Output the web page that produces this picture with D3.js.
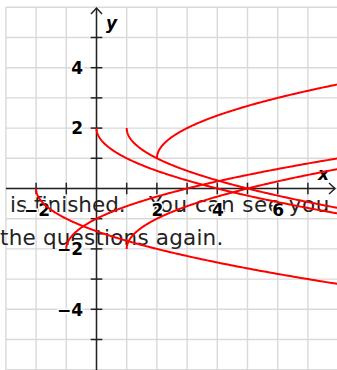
<!DOCTYPE html>
<html>
<head>
<meta charset="utf-8">
<script src="https://cdn.jsdelivr.net/npm/d3@7"></script>
<style>
  html, body { margin: 0; padding: 0; background: #fff; overflow: hidden; }
  svg { display: block; }
</style>
</head>
<body>
<div id="chart"></div>
<script>
const width = 337;
const height = 370;

// each curve: y = startY + dir * sqrt(x - startX)
const curveStartX = [0, 1, 2, -2, -1, 1];
const curveStartY = [2, 2, 1, 0, -2, -2];
const curveDir = [-1, -1, 1, -1, 1, 1];

const xTickLabels = [-2, 2, 4, 6];
const yTickLabels = [4, 2, -2, -4];
const xTicks = [-2, -1, 1, 2, 3, 4, 5, 6, 7];
const yTicks = [-5, -4, -3, -2, -1, 1, 2, 3, 4, 5];
const xGrid = d3.range(-3, 9);
const yGrid = d3.range(-6, 7);

const overlayLines = [
    { text: "is finished.", x: 10, y: 212, ls: 0 },
    { text: "You can see you", x: 149, y: 212, ls: 0.5 },
    { text: "the questions again.", x: 0, y: 245, ls: 0.2 }
];

const x = d3.scaleLinear().domain([-3, 8]).range([5.9, 338.1]);
const y = d3.scaleLinear().domain([6, -6]).range([7.3, 369.7]);

const svg = d3.select("#chart").append("svg")
    .attr("width", width)
    .attr("height", height)
    .attr("viewBox", [0, 0, width, height]);

svg.append("defs").append("clipPath").attr("id", "plot")
    .append("rect").attr("x", x(-3)).attr("y", y(6)).attr("width", width).attr("height", height);

// grid
const grid = svg.append("g").attr("stroke", "#d9d9d9").attr("stroke-width", 1.4);
grid.selectAll(".vx").data(xGrid).join("line")
    .attr("x1", d => x(d)).attr("x2", d => x(d))
    .attr("y1", y(6)).attr("y2", height);
grid.selectAll(".hy").data(yGrid).join("line")
    .attr("y1", d => y(d)).attr("y2", d => y(d))
    .attr("x1", x(-3)).attr("x2", width);

// the text sitting on top of the grid
svg.append("g")
    .style("font-family", "DejaVu Sans, sans-serif")
    .style("font-size", "21.5px")
    .attr("fill", "#222")
    .selectAll("text").data(overlayLines).join("text")
    .attr("x", d => d.x).attr("y", d => d.y)
    .style("letter-spacing", d => d.ls + "px")
    .text(d => d.text);

// axes
const axes = svg.append("g").attr("stroke", "#222").attr("stroke-width", 1.5).attr("fill", "none");
axes.append("line").attr("x1", x(-3)).attr("x2", 335).attr("y1", y(0)).attr("y2", y(0));
axes.append("line").attr("x1", x(0)).attr("x2", x(0)).attr("y1", 8).attr("y2", height);
axes.append("path").attr("d", `M${329},${y(0) - 5.5}L${335},${y(0)}L${329},${y(0) + 5.5}`);
axes.append("path").attr("d", `M${x(0) - 5.5},${14}L${x(0)},${8}L${x(0) + 5.5},${14}`);

axes.selectAll(".tx").data(xTicks).join("line")
    .attr("x1", d => x(d)).attr("x2", d => x(d))
    .attr("y1", y(0) - 5.8).attr("y2", y(0) + 5.8);
axes.selectAll(".ty").data(yTicks).join("line")
    .attr("y1", d => y(d)).attr("y2", d => y(d))
    .attr("x1", x(0) - 5.8).attr("x2", x(0) + 5.8);

const labels = svg.append("g")
    .style("font-family", "DejaVu Sans, sans-serif")
    .style("font-size", "17px")
    .style("font-weight", "bold")
    .attr("fill", "#000")
    .attr("stroke", "#fff")
    .attr("stroke-width", 3)
    .attr("paint-order", "stroke");

labels.selectAll(".lx").data(xTickLabels).join("text")
    .attr("x", d => x(d) + (d < 0 ? 1 : 0.5))
    .attr("y", y(0) + 27)
    .attr("text-anchor", "middle")
    .text(d => d < 0 ? "\u2212" + Math.abs(d) : d);

labels.selectAll(".ly").data(yTickLabels).join("text")
    .attr("x", x(0) - 13.5)
    .attr("y", d => y(d) + 6.3)
    .attr("text-anchor", "end")
    .text(d => d < 0 ? "\u2212" + Math.abs(d) : d);

labels.append("text").attr("x", 106).attr("y", 29)
    .style("font-style", "italic").text("y");
labels.append("text").attr("x", 318).attr("y", 180)
    .style("font-style", "italic").text("x");

// curves
const line = d3.line().x(d => x(d[0])).y(d => y(d[1]));
const curves = curveStartX.map((h, i) => {
    const pts = [];
    for (let t = 0; t <= 3.3; t += 0.02) {
        pts.push([h + t * t, curveStartY[i] + curveDir[i] * t]);
    }
    return pts;
});

svg.append("g")
    .attr("clip-path", "url(#plot)")
    .attr("fill", "none")
    .attr("stroke", "#ff0000")
    .attr("stroke-width", 2)
    .selectAll("path").data(curves).join("path")
    .attr("d", line);
</script>
</body>
</html>
